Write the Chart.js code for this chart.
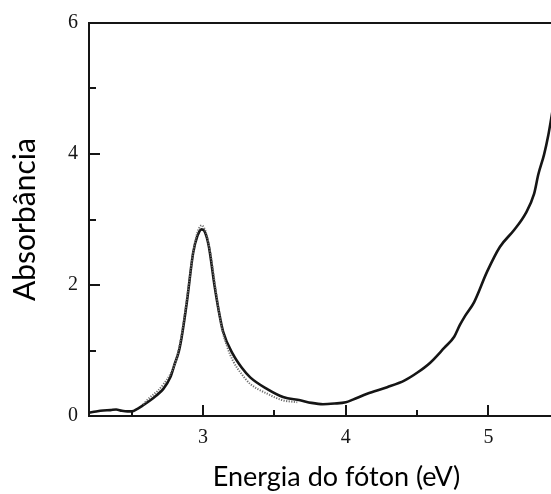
<!DOCTYPE html>
<html lang="pt">
<head>
<meta charset="utf-8">
<title>Absorbância</title>
<script src="https://cdn.jsdelivr.net/npm/chart.js@4"></script>
<style>
  html, body { margin: 0; padding: 0; background: #fff; overflow: hidden; }
  #wrap { width: 551px; height: 494px; overflow: hidden; }
</style>
</head>
<body>
<div id="wrap"><canvas id="spec" width="584" height="494"></canvas></div>
<script>
// measured spectrum (eV, absorbance)
const energy = [2.20, 2.25, 2.30, 2.35, 2.39, 2.43, 2.47, 2.50, 2.54, 2.58,
                2.63, 2.67, 2.72, 2.77, 2.80, 2.83, 2.85, 2.886, 2.93, 2.96,
                2.99, 3.01, 3.04, 3.08, 3.11, 3.14, 3.21, 3.27, 3.33, 3.45,
                3.56, 3.68, 3.76, 3.84, 3.92, 4.00, 4.05, 4.15, 4.29, 4.41,
                4.50, 4.59, 4.69, 4.76, 4.80, 4.84, 4.90, 4.99, 5.08, 5.18,
                5.26, 5.32, 5.35, 5.39, 5.42, 5.44, 5.46];
const absorb = [0.05, 0.07, 0.085, 0.09, 0.10, 0.08, 0.07, 0.07, 0.11, 0.165,
                0.24, 0.31, 0.41, 0.59, 0.79, 0.99, 1.21, 1.74, 2.49, 2.75,
                2.85, 2.82, 2.59, 1.99, 1.60, 1.29, 0.94, 0.74, 0.59, 0.41,
                0.29, 0.24, 0.20, 0.18, 0.19, 0.21, 0.25, 0.34, 0.44, 0.54,
                0.66, 0.81, 1.04, 1.21, 1.39, 1.54, 1.74, 2.20, 2.58, 2.84,
                3.09, 3.39, 3.69, 3.99, 4.29, 4.54, 4.80];

// fitted band around 3 eV (dotted)
const fitEnergy = [2.58, 2.63, 2.68, 2.72, 2.77, 2.81, 2.85, 2.89, 2.93, 2.96,
                   2.99, 3.02, 3.05, 3.09, 3.13, 3.17, 3.21, 3.27, 3.33, 3.45,
                   3.56, 3.66];
const fitAbsorb = [0.18, 0.29, 0.38, 0.48, 0.64, 0.85, 1.25, 1.85, 2.50, 2.80,
                   2.91, 2.80, 2.50, 1.90, 1.35, 1.05, 0.84, 0.64, 0.49, 0.34,
                   0.24, 0.21];

const xMajor = [3, 4, 5];
const xMinor = [2.5, 3.5, 4.5];
const yMajor = [0, 2, 4, 6];
const yMinor = [1, 3, 5];

const X_MIN = 2.2, X_MAX = 5.67, Y_MIN = 0, Y_MAX = 6;
const INK = '#151515';

const toPoints = (xs, ys) => xs.map((x, i) => ({ x: x, y: ys[i] }));

// tick marks point into the plot; majors longer than minors
const inwardTicks = {
  id: 'inwardTicks',
  afterDraw(chart) {
    const { ctx, chartArea, scales } = chart;
    const xs = scales.x, ys = scales.y;
    ctx.save();
    ctx.strokeStyle = INK;
    ctx.lineWidth = 2;
    ctx.beginPath();
    const xTick = (v, len) => {
      const px = Math.round(xs.getPixelForValue(v));
      ctx.moveTo(px, chartArea.bottom);
      ctx.lineTo(px, chartArea.bottom - len);
    };
    const yTick = (v, len) => {
      const py = Math.round(ys.getPixelForValue(v));
      ctx.moveTo(chartArea.left, py);
      ctx.lineTo(chartArea.left + len, py);
    };
    xMajor.forEach(v => xTick(v, 11));
    xMinor.forEach(v => xTick(v, 6));
    yMajor.filter(v => v > Y_MIN && v < Y_MAX).forEach(v => yTick(v, 11));
    yMinor.forEach(v => yTick(v, 7));
    ctx.stroke();
    ctx.restore();
  }
};

const tickFont = { family: '"Liberation Serif", "Times New Roman", serif', size: 20 };
const xTitleFont = { family: 'Lato, "Open Sans", sans-serif', size: 27 };
const yTitleFont = { family: 'Lato, "Open Sans", sans-serif', size: 30 };

new Chart(document.getElementById('spec'), {
  type: 'line',
  data: {
    datasets: [
      {
        label: 'ajuste',
        data: toPoints(fitEnergy, fitAbsorb),
        borderColor: '#6f6f6f',
        borderWidth: 2,
        borderDash: [1.2, 1.4],
        pointRadius: 0,
        cubicInterpolationMode: 'monotone',
        fill: false
      },
      {
        label: 'Absorbância',
        data: toPoints(energy, absorb),
        borderColor: INK,
        borderWidth: 2.6,
        pointRadius: 0,
        cubicInterpolationMode: 'monotone',
        fill: false
      }
    ]
  },
  options: {
    responsive: false,
    animation: false,
    layout: { padding: 0, autoPadding: false },
    plugins: { legend: { display: false }, tooltip: { enabled: false } },
    scales: {
      x: {
        type: 'linear',
        position: 'bottom',
        min: X_MIN,
        max: X_MAX,
        afterBuildTicks: s => { s.ticks = xMajor.map(v => ({ value: v })); },
        afterFit: s => { s.height = 78; },
        ticks: { color: INK, font: tickFont, padding: 10, maxRotation: 0,
                 callback: v => String(v) },
        grid: { display: false, drawTicks: false },
        border: { display: true, color: INK, width: 2 },
        title: { display: true, text: 'Energia do fóton (eV)', color: '#000',
                 font: xTitleFont, padding: { top: 0, bottom: 1 } }
      },
      top: {
        type: 'linear',
        position: 'top',
        min: X_MIN,
        max: X_MAX,
        afterFit: s => { s.height = 16; },
        ticks: { display: false },
        grid: { display: false, drawTicks: false },
        border: { display: true, color: INK, width: 2 }
      },
      y: {
        type: 'linear',
        min: Y_MIN,
        max: Y_MAX,
        afterBuildTicks: s => { s.ticks = yMajor.map(v => ({ value: v })); },
        afterFit: s => { s.width = 89; },
        ticks: { color: INK, font: tickFont, padding: 11,
                 callback: v => String(v) },
        grid: { display: false, drawTicks: false },
        border: { display: true, color: INK, width: 2 },
        title: { display: true, text: 'Absorbância', color: '#000',
                 font: yTitleFont, padding: { top: 7, bottom: 0 } }
      }
    }
  },
  plugins: [inwardTicks]
});
</script>
</body>
</html>
